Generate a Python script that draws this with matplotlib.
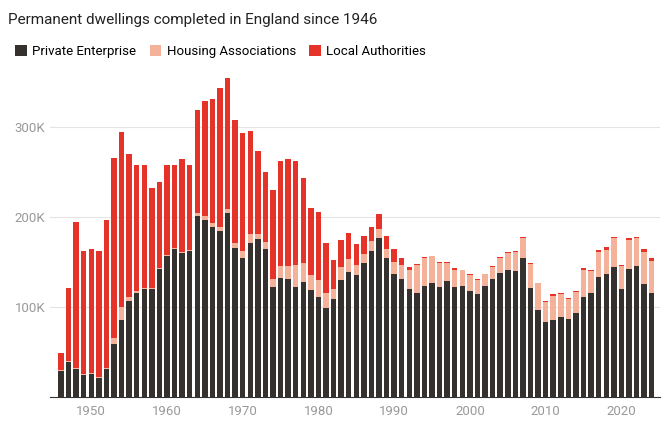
import matplotlib
matplotlib.use("Agg")
import matplotlib.pyplot as plt
from matplotlib.ticker import FuncFormatter
import numpy as np

years = np.arange(1946, 2025)

# thousands
private = [29, 39, 31, 24, 26, 21, 31, 59, 86, 107, 116, 120, 120, 142, 157, 164, 160, 162,
           201, 197, 189, 184, 204, 165, 154, 171, 175, 164, 122, 132, 131, 122, 128, 119, 111,
           99, 109, 130, 139, 135, 149, 162, 176, 154, 136, 131, 120, 116, 123, 126, 122, 129,
           122, 123, 118, 114, 123, 131, 138, 141, 140, 154, 121, 97, 83, 86, 89, 87, 93, 111,
           115, 133, 136, 144, 120, 142, 145, 125, 116]
# cumulative top of housing associations
ha_top = [30, 40, 32, 26, 27, 22, 32, 65, 100, 111, 118, 121, 121, 143, 158, 165, 161, 163,
          204, 201, 193, 189, 209, 171, 162, 181, 181, 172, 131, 145, 145, 146, 149, 135, 130,
          116, 120, 144, 153, 147, 159, 173, 187, 164, 150, 146, 141, 146, 154, 156, 149, 149,
          141, 141, 135, 130, 136, 144, 154, 160, 161, 177, 148, 126, 106, 112, 114, 109, 117, 141,
          140, 161, 163, 176, 145, 174, 177, 161, 151]
total = [49, 121, 194, 162, 164, 162, 197, 265, 294, 270, 257, 257, 232, 239, 258, 257, 264, 257,
         319, 329, 331, 343, 354, 307, 293, 295, 273, 250, 230, 262, 264, 262, 243, 210, 205,
         171, 152, 174, 182, 170, 179, 189, 203, 179, 164, 154, 144, 148, 155, 157, 150, 150,
         143, 141, 136, 131, 137, 145, 155, 161, 162, 178, 149, 127, 107, 114, 116, 110, 118, 143,
         141, 163, 166, 178, 146, 176, 178, 164, 154]

private = np.array(private) * 1000
housing = (np.array(ha_top) - np.array(private) / 1000) * 1000
local = (np.array(total) - np.array(ha_top)) * 1000

plt.rcParams["font.family"] = ["Roboto", "DejaVu Sans"]

fig = plt.figure(figsize=(6.65, 4.4), dpi=100)
ax = fig.add_axes([50 / 665, 43 / 440, 610 / 665, 327 / 440])

w = 0.72
ax.bar(years, private, w, color="#35312e", label="Private Enterprise", zorder=3)
ax.bar(years, housing, w, bottom=private, color="#f4b29a", label="Housing Associations", zorder=3)
ax.bar(years, local, w, bottom=private + housing, color="#e5332a", label="Local Authorities", zorder=3)

ax.set_xlim(1944.55, 2025.1)
ax.set_ylim(0, 363000)
ax.set_yticks([100000, 200000, 300000])
ax.yaxis.set_major_formatter(FuncFormatter(lambda v, _: f"{int(v / 1000)}K"))
ax.set_xticks([1950, 1960, 1970, 1980, 1990, 2000, 2010, 2020])
ax.grid(axis="y", color="#e3e3e3", linewidth=0.8, zorder=0)
ax.tick_params(axis="both", length=0, labelsize=9.5, labelcolor="#999999")
ax.tick_params(axis="x", pad=6)
for s in ["top", "right", "left"]:
    ax.spines[s].set_visible(False)
ax.spines["bottom"].set_color("#333333")

fig.text(0.012, 0.955, "Permanent dwellings completed in England since 1946",
         fontsize=11, color="#222222", va="center")
fig.legend(loc="upper left", bbox_to_anchor=(0.005, 0.925), ncol=3, frameon=False,
           fontsize=9.5, handlelength=0.9, handleheight=0.9, columnspacing=1.0,
           handletextpad=0.4)

fig.savefig("out.png", dpi=100)
plt.close(fig)
